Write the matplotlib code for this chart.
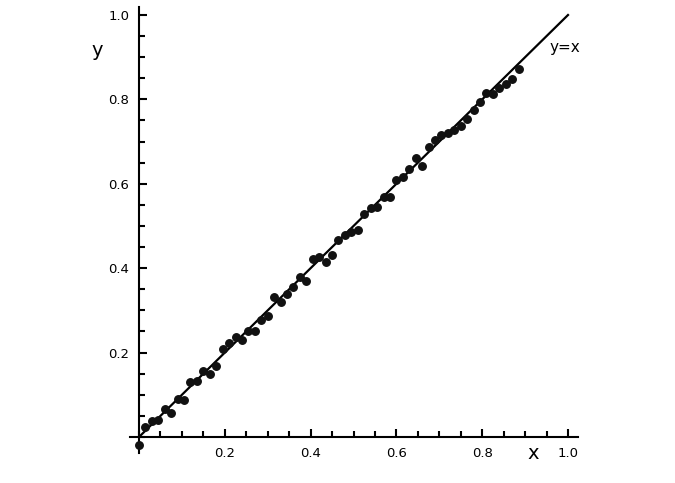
import matplotlib
matplotlib.use("Agg")
import matplotlib.pyplot as plt
import numpy as np
from matplotlib.ticker import MultipleLocator, FixedLocator

# Données
x_pts = [0.0, 0.015, 0.03, 0.045, 0.06, 0.075, 0.09, 0.105, 0.12, 0.135,
         0.15, 0.165, 0.18, 0.195, 0.21, 0.225, 0.24, 0.255, 0.27, 0.285,
         0.30, 0.315, 0.33, 0.345, 0.36, 0.375, 0.39, 0.405, 0.42, 0.435,
         0.45, 0.465, 0.48, 0.495, 0.51, 0.525, 0.54, 0.555, 0.57, 0.585,
         0.60, 0.615, 0.63, 0.645, 0.66, 0.675, 0.69, 0.705, 0.72, 0.735,
         0.75, 0.765, 0.78, 0.795, 0.81, 0.825, 0.84, 0.855, 0.87, 0.885]
y_pts = [-0.02, 0.024, 0.039, 0.040, 0.066, 0.058, 0.091, 0.088, 0.130, 0.132,
         0.156, 0.150, 0.169, 0.208, 0.222, 0.238, 0.230, 0.251, 0.252, 0.277,
         0.287, 0.332, 0.320, 0.340, 0.356, 0.380, 0.370, 0.421, 0.427, 0.415,
         0.431, 0.468, 0.479, 0.486, 0.491, 0.528, 0.543, 0.545, 0.569, 0.568,
         0.609, 0.617, 0.635, 0.660, 0.643, 0.688, 0.704, 0.716, 0.721, 0.727,
         0.737, 0.754, 0.775, 0.795, 0.816, 0.813, 0.826, 0.836, 0.849, 0.872]
line_x = [0.0, 1.0]
line_y = [0.0, 1.0]
tick_vals = [0.2, 0.4, 0.6, 0.8, 1.0]
tick_labels = ["0.2", "0.4", "0.6", "0.8", "1.0"]

fig = plt.figure(figsize=(6.75, 4.83), dpi=100)
ax = fig.add_axes([130 / 675, 30 / 483, 448 / 675, 446 / 483])

ax.plot(line_x, line_y, color="black", lw=1.6, zorder=2)
ax.plot(x_pts, y_pts, "o", color="#111111", ms=5.4, zorder=3)

ax.set_xlim(-9 / 429, 1 + 10 / 429)
ax.set_ylim(-16 / 422, 1 + 8 / 422)

for s in ["top", "right"]:
    ax.spines[s].set_visible(False)
ax.spines["left"].set_position(("data", 0))
ax.spines["bottom"].set_position(("data", 0))
ax.spines["left"].set_linewidth(1.5)
ax.spines["bottom"].set_linewidth(1.5)

ax.xaxis.set_major_locator(FixedLocator(tick_vals))
ax.yaxis.set_major_locator(FixedLocator(tick_vals))
ax.set_xticklabels(tick_labels)
ax.set_yticklabels(tick_labels)
ax.xaxis.set_minor_locator(MultipleLocator(0.05))
ax.yaxis.set_minor_locator(MultipleLocator(0.05))
ax.tick_params(which="major", direction="in", length=6, width=1.5,
               labelsize=9.5, pad=7, colors="black")
ax.tick_params(which="minor", direction="in", length=4, width=1.5)

ax.text(-0.098, 0.917, "y", fontsize=14, ha="center", va="center")
ax.text(0.918, -0.038, "x", fontsize=14, ha="center", va="center")
ax.text(0.993, 0.922, "y=x", fontsize=11, ha="center", va="center")

fig.savefig("out.png", dpi=100)
